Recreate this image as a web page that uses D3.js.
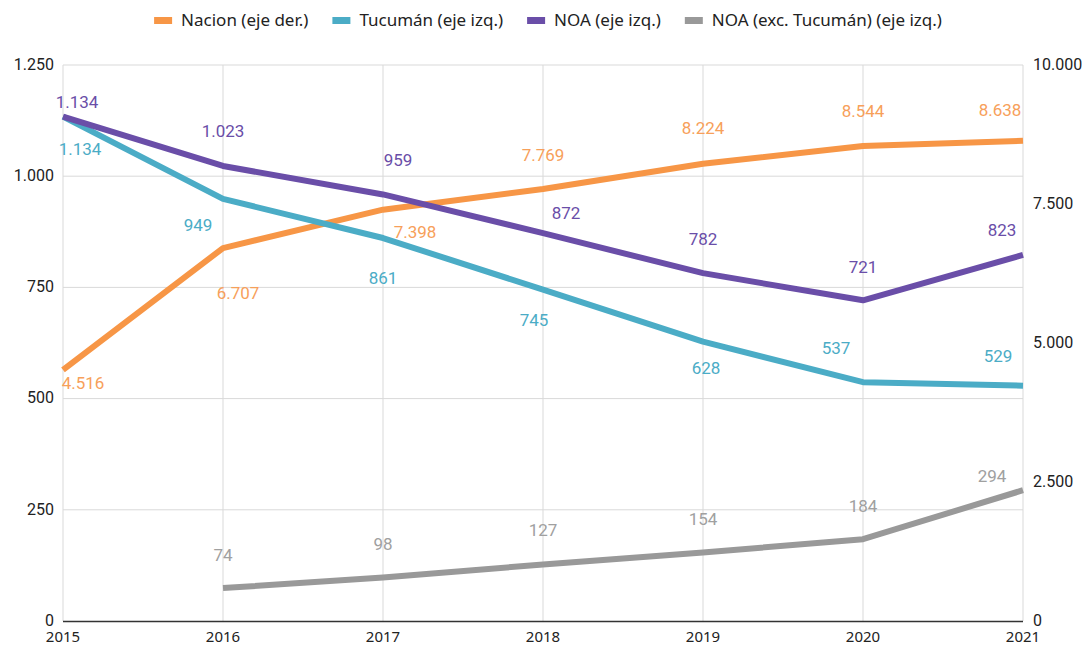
<!DOCTYPE html>
<html>
<head>
<meta charset="utf-8">
<script src="https://cdn.jsdelivr.net/npm/d3@7"></script>
<style>
  body { margin: 0; background: #fff; }
  svg { display: block; }
</style>
</head>
<body>
<svg id="chart" width="1090" height="648"></svg>
<script>
var years = [2015, 2016, 2017, 2018, 2019, 2020, 2021];
var nacion = [4516, 6707, 7398, 7769, 8224, 8544, 8638];
var tucuman = [1134, 949, 861, 745, 628, 537, 529];
var noa = [1134, 1023, 959, 872, 782, 721, 823];
var noaExc = [null, 74, 98, 127, 154, 184, 294];
var leftTicks = [0, 250, 500, 750, 1000, 1250];
var rightTicks = [0, 2500, 5000, 7500, 10000];

// label offsets [dx, dy] relative to each point (placement only)
var nacionLab = [[20, 13], [15, 45], [32, 22], [0, -34], [0, -36], [0, -35], [-23, -31]];
var tucumanLab = [[17, 32], [-25, 26], [0, 40], [-9, 30], [3, 26], [-27, -34], [-25, -30]];
var noaLab = [[14, -15], [0, -35], [15, -34], [23, -20], [0, -34], [0, -33], [-21, -25]];
var noaExcLab = [null, [0, -33], [0, -33], [0, -34], [0, -33], [0, -33], [-31, -14]];

var margin = {left: 63, right: 67, top: 65, bottom: 27};
var width = 1090, height = 648;
var svg = d3.select("#chart");

var x = d3.scaleLinear().domain([2015, 2021]).range([margin.left, width - margin.right]);
var yL = d3.scaleLinear().domain([0, 1250]).range([height - margin.bottom, margin.top]);
var yR = d3.scaleLinear().domain([0, 10000]).range([height - margin.bottom, margin.top]);

var fontTick = "Roboto, 'Liberation Sans', sans-serif";
var fontYear = "'Noto Sans', 'Open Sans', sans-serif";

// grid
svg.append("g").selectAll("line").data(leftTicks.slice(1)).enter().append("line")
    .attr("x1", x(2015)).attr("x2", x(2021))
    .attr("y1", function (d) { return yL(d); }).attr("y2", function (d) { return yL(d); })
    .attr("stroke", "#d9d9d9").attr("stroke-width", 1);
svg.append("g").selectAll("line").data(years).enter().append("line")
    .attr("x1", function (d) { return x(d); }).attr("x2", function (d) { return x(d); })
    .attr("y1", yL(0)).attr("y2", yL(1250))
    .attr("stroke", "#d9d9d9").attr("stroke-width", 1);
svg.append("line")
    .attr("x1", x(2015)).attr("x2", x(2021))
    .attr("y1", yL(0) + 0.5).attr("y2", yL(0) + 0.5)
    .attr("stroke", "#333").attr("stroke-width", 1.5);

var fmt = function (v) { return d3.format(",")(v).replace(/,/g, "."); };

// axes labels
svg.append("g").selectAll("text").data(leftTicks).enter().append("text")
    .attr("x", margin.left - 9).attr("y", function (d) { return yL(d); })
    .attr("dy", "0.3em").attr("text-anchor", "end")
    .style("font-family", fontTick).style("font-size", "16px").attr("fill", "#222")
    .text(fmt);
svg.append("g").selectAll("text").data(rightTicks).enter().append("text")
    .attr("x", width - margin.right + 10).attr("y", function (d) { return yR(d); })
    .attr("dy", "0.3em").attr("text-anchor", "start")
    .style("font-family", fontTick).style("font-size", "16px").attr("fill", "#222")
    .text(fmt);
svg.append("g").selectAll("text").data(years).enter().append("text")
    .attr("x", function (d) { return x(d); }).attr("y", 642)
    .attr("text-anchor", "middle")
    .style("font-family", fontYear).style("font-size", "15px").attr("fill", "#222")
    .text(function (d) { return d; });

var series = [
    {name: "Nacion (eje der.)", values: nacion, y: yR, color: "#f79646", labColor: "#f7a05a", lab: nacionLab},
    {name: "Tucumán (eje izq.)", values: tucuman, y: yL, color: "#4bacc6", labColor: "#4bacc6", lab: tucumanLab},
    {name: "NOA (eje izq.)", values: noa, y: yL, color: "#6a4ea8", labColor: "#6a4ea8", lab: noaLab},
    {name: "NOA (exc. Tucumán) (eje izq.)", values: noaExc, y: yL, color: "#999999", labColor: "#a0a0a0", lab: noaExcLab}
];

// draw order: grey, orange, cyan, purple on top
[3, 0, 1, 2].forEach(function (i) {
    var s = series[i];
    var line = d3.line()
        .defined(function (d) { return d != null; })
        .x(function (d, j) { return x(years[j]); })
        .y(function (d) { return s.y(d); });
    svg.append("path").datum(s.values)
        .attr("d", line).attr("fill", "none")
        .attr("stroke", s.color).attr("stroke-width", 6)
        .attr("stroke-linejoin", "round");
});

series.forEach(function (s) {
    svg.append("g").selectAll("text").data(s.values).enter()
        .filter(function (d) { return d != null; })
        .append("text")
        .attr("x", function (d) { var j = s.values.indexOf(d); return x(years[j]) + s.lab[j][0]; })
        .attr("y", function (d) { var j = s.values.indexOf(d); return s.y(d) + s.lab[j][1]; })
        .attr("dy", "0.35em").attr("text-anchor", "middle")
        .style("font-family", fontTick).style("font-size", "17px").attr("fill", s.labColor)
        .text(fmt);
});

// legend
var legend = svg.append("g");
var lx = 0;
series.forEach(function (s) {
    var g = legend.append("g").attr("transform", "translate(" + lx + ",0)");
    g.append("rect").attr("x", 0).attr("y", -3).attr("width", 18).attr("height", 7).attr("fill", s.color);
    var t = g.append("text").attr("x", 27).attr("y", 0).attr("dy", "0.35em")
        .style("font-family", fontYear).style("font-size", "17px").attr("fill", "#222")
        .text(s.name);
    lx += 27 + t.node().getComputedTextLength() + 24;
});
var lw = lx - 24;
legend.attr("transform", "translate(" + (548 - lw / 2) + ",20)");
</script>
</body>
</html>
